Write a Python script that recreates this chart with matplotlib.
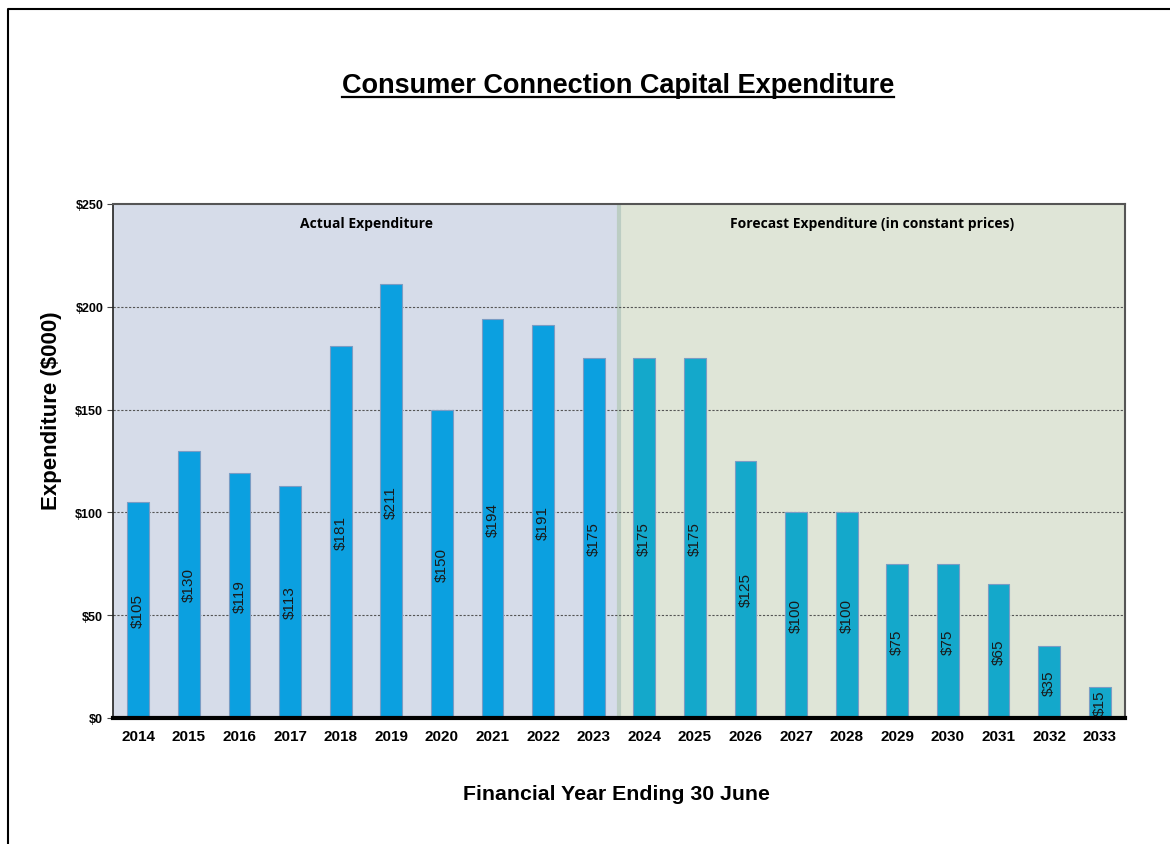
import numpy as np
import matplotlib
matplotlib.use('Agg')
import matplotlib.pyplot as plt
from matplotlib.lines import Line2D

# Data
years = ['2014', '2015', '2016', '2017', '2018', '2019', '2020', '2021', '2022', '2023',
         '2024', '2025', '2026', '2027', '2028', '2029', '2030', '2031', '2032', '2033']
spend = [105, 130, 119, 113, 181, 211, 150, 194, 191, 175,
         175, 175, 125, 100, 100, 75, 75, 65, 35, 15]
n_actual = 10
yticks = [0, 50, 100, 150, 200, 250]

plt.rcParams['font.family'] = ['Liberation Sans', 'DejaVu Sans']

fig = plt.figure(figsize=(11.7, 8.45), dpi=100)
ax = fig.add_axes([113/1170, 1-719/845, (1125-113)/1170, (719-205)/845])

x = np.arange(len(years))
ax.set_xlim(-0.5, len(years) - 0.5)
ax.set_ylim(0, 250)

# Shaded regions
ax.axvspan(-0.5, n_actual - 0.5, color='#d6dce9', zorder=0)
ax.axvspan(n_actual - 0.5, len(years) - 0.5, color='#dfe5d7', zorder=0)
ax.axvline(n_actual - 0.5, color='#bccdc3', lw=3, zorder=1)

# Gridlines
for v in yticks[1:-1]:
    ax.axhline(v, color='#555555', lw=0.8, ls=(0, (2, 1.5)), zorder=1)

colors = ['#0ba0e0'] * n_actual + ['#14a8cb'] * (len(years) - n_actual)
bars = ax.bar(x, spend, width=0.43, color=colors, edgecolor='#7a9cc4', linewidth=0.8, zorder=2)

for xi, v in zip(x, spend):
    ax.text(xi, v / 2, f'${v}', rotation=90, ha='center', va='center',
            fontsize=11, color='#1a1a1a', zorder=3)

# Region labels
ax.text((n_actual - 1) / 2, 241, 'Actual Expenditure', ha='center', va='center',
        fontsize=10, fontweight='bold', family=['Open Sans', 'DejaVu Sans'])
ax.text((n_actual + len(years) - 1) / 2, 241, 'Forecast Expenditure (in constant prices)',
        ha='center', va='center', fontsize=10, fontweight='bold',
        family=['Open Sans', 'DejaVu Sans'])

ax.set_xticks(x)
ax.set_xticklabels(years, fontsize=11, fontweight='bold')
ax.tick_params(axis='x', length=0, pad=8)
ax.set_yticks(yticks)
ax.set_yticklabels([f'${v}' for v in yticks], fontsize=9, fontweight='bold')
ax.tick_params(axis='y', length=4, width=0.8, color='#444444', pad=3)

for s in ['top', 'right']:
    ax.spines[s].set_color('#555555')
    ax.spines[s].set_linewidth(1.5)
ax.spines['left'].set_color('#222222')
ax.spines['left'].set_linewidth(1.2)
ax.spines['bottom'].set_color('black')
ax.spines['bottom'].set_linewidth(3)

fig.text(52/1170, 1-411/845, 'Expenditure ($000)', rotation=90, ha='center', va='center',
         fontsize=16, fontweight='bold')
fig.text(616/1170, 1-795/845, 'Financial Year Ending 30 June', ha='center', va='center',
         fontsize=15.3, fontweight='bold')

# Title with underline
title = fig.text(618/1170, 1-86/845, 'Consumer Connection Capital Expenditure',
                 ha='center', va='center', fontsize=19.5, fontweight='bold')
fig.canvas.draw()
bb = title.get_window_extent().transformed(fig.transFigure.inverted())
fig.add_artist(Line2D([bb.x0, bb.x1], [bb.y0 + 0.001, bb.y0 + 0.001],
                      transform=fig.transFigure, color='black', lw=1.6))

# Page frame
fig.add_artist(Line2D([8/1170, 8/1170, 1.0], [0.0, 1-10/845, 1-10/845],
                      transform=fig.transFigure, color='black', lw=1.5))

fig.savefig('out.png', dpi=100)
